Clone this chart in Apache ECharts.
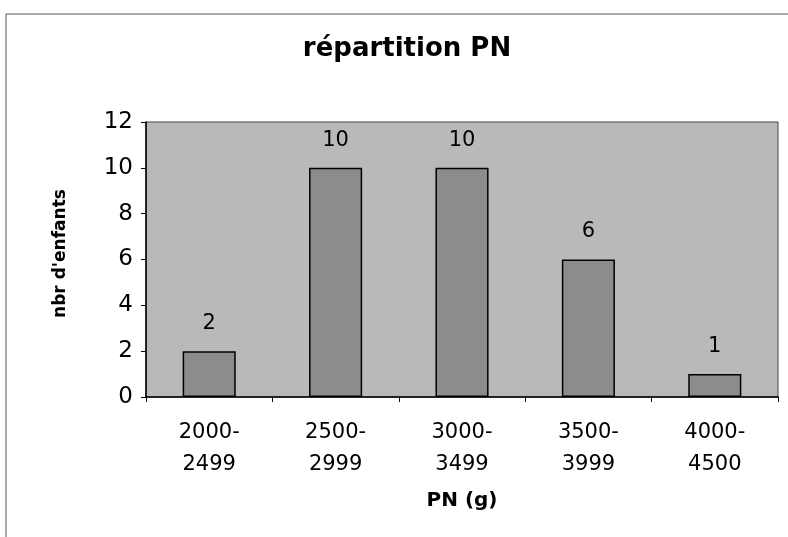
<!DOCTYPE html>
<html><head><meta charset="utf-8">
<script src="https://cdn.jsdelivr.net/npm/echarts@6/dist/echarts.min.js"></script>
<style>html,body{margin:0;padding:0;background:#fff}#c{width:788px;height:537px}</style>
</head><body><div id="c"></div>
<script>
const categories = ['2000-\n2499', '2500-\n2999', '3000-\n3499', '3500-\n3999', '4000-\n4500'];
const values = [2, 10, 10, 6, 1];
const yTicks = [0, 2, 4, 6, 8, 10, 12];

const F = 'DejaVu Sans';
const chart = echarts.init(document.getElementById('c'), null, {renderer: 'canvas'});
chart.setOption({
  animation: false,
  backgroundColor: '#ffffff',
  title: {
    text: 'répartition PN', left: 402, top: 31, textAlign: 'center',
    textStyle: {fontFamily: F, fontSize: 26, fontWeight: 'bold', color: '#000'}
  },
  graphic: [{
    type: 'polyline', shape: {points: [[6, 540], [6, 14], [790, 14]]},
    style: {stroke: '#555', lineWidth: 1, fill: null}, silent: true
  }],
  grid: {left: 146, top: 122, right: 10, bottom: 140, show: true, backgroundColor: '#b9b9b9', borderColor: '#444', borderWidth: 1},
  xAxis: {
    type: 'category', data: categories,
    name: 'PN (g)', nameLocation: 'middle', nameGap: 94,
    nameTextStyle: {fontFamily: F, fontSize: 20, fontWeight: 'bold', color: '#000'},
    axisLine: {lineStyle: {color: '#000', width: 1.5}},
    axisTick: {show: true, alignWithLabel: false, length: 5, lineStyle: {color: '#000'}},
    axisLabel: {fontFamily: F, fontSize: 21, color: '#000', margin: 20, lineHeight: 32}
  },
  yAxis: {
    type: 'value', min: 0, max: 12, interval: 2,
    name: "nbr d'enfants", nameLocation: 'middle', nameGap: 77, nameRotate: 90,
    nameTextStyle: {fontFamily: F, fontSize: 17, fontWeight: 'bold', color: '#000', padding: [0, 0, 0, 12]},
    axisLine: {show: true, lineStyle: {color: '#000', width: 1.5}},
    axisTick: {show: true, length: 5, lineStyle: {color: '#000'}},
    splitLine: {show: false},
    axisLabel: {fontFamily: F, fontSize: 23, color: '#000', margin: 13,
      formatter: v => yTicks.includes(v) ? String(v) : ''}
  },
  series: [{
    type: 'bar', data: values, barWidth: '42%',
    itemStyle: {color: '#8c8c8c', borderColor: '#000', borderWidth: 1.5},
    label: {show: true, position: 'top', distance: 17, fontFamily: F, fontSize: 21, color: '#000'}
  }]
});
</script></body></html>
